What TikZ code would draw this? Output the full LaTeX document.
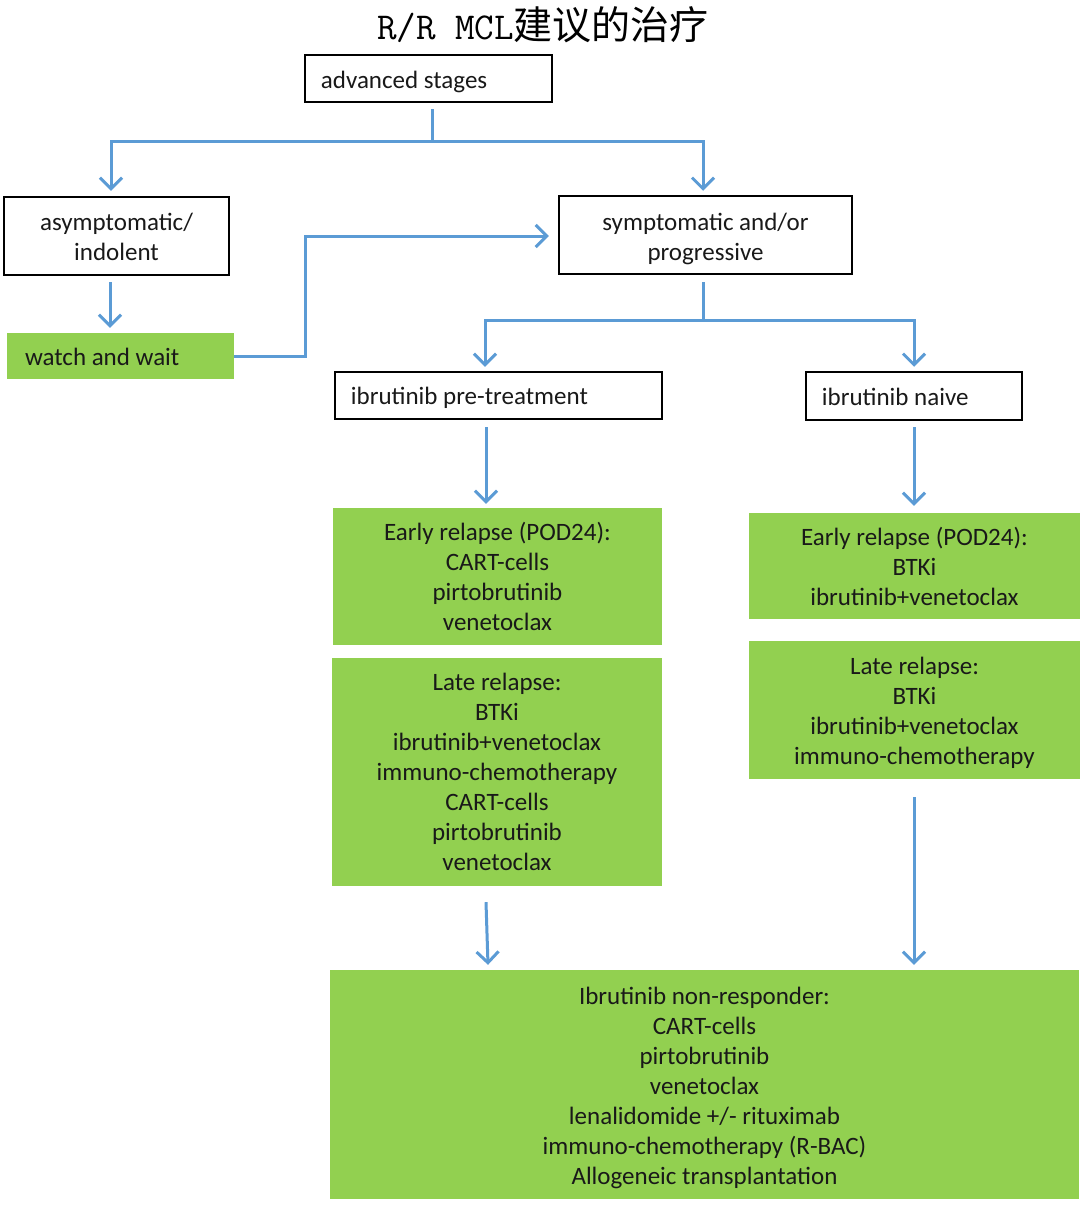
\documentclass[tikz,border=0pt]{standalone}
\usepackage{fontspec}
\setmainfont{Carlito}
\newfontfamily\cjkf{Noto Sans CJK SC}
\usetikzlibrary{arrows.meta}
\definecolor{lblue}{HTML}{5B9BD5}
\definecolor{lgreen}{HTML}{92D050}
\tikzset{
 txt/.style={font=\fontsize{25}{30}\selectfont, text=black!90, inner sep=0pt},
 wbox/.style={draw=black, line width=2.5pt, fill=white, inner sep=0pt},
 gbox/.style={fill=lgreen, inner sep=0pt},
 conn/.style={draw=lblue, line width=3pt},
 arr/.style={conn, -{Straight Barb[length=11pt,width=22pt]}},
}
\begin{document}
\begin{tikzpicture}[x=1pt,y=-1pt]
\useasboundingbox (0,0) rectangle (1080,1205);
\fill[white] (0,0) rectangle (1080,1205);

\node[inner sep=0pt] (title) at (543,25) {{\ttfamily\fontsize{38}{40}\selectfont R/R MCL}\cjkf\fontsize{39}{40}\selectfont 建议的治疗};

% boxes
\node[wbox, minimum width=247pt, minimum height=47pt] (adv) at (428.5,78.5) {};
\node[wbox, minimum width=225pt, minimum height=78pt] (asym) at (116.5,236) {};
\node[wbox, minimum width=293pt, minimum height=78pt] (symp) at (705.5,235) {};
\node[gbox, minimum width=227pt, minimum height=46pt] (watch) at (120.5,356) {};
\node[wbox, minimum width=327pt, minimum height=47pt] (pre) at (498.5,395.5) {};
\node[wbox, minimum width=216pt, minimum height=48pt] (naive) at (914,396) {};
\node[gbox, minimum width=329pt, minimum height=137pt] (erl) at (497.5,576.5) {};
\node[gbox, minimum width=330pt, minimum height=228pt] (lrl) at (497,772) {};
\node[gbox, minimum width=331pt, minimum height=106pt] (err) at (914.5,566) {};
\node[gbox, minimum width=331pt, minimum height=138pt] (lrr) at (914.5,710) {};
\node[gbox, minimum width=749pt, minimum height=229pt] (nr) at (704.5,1084.5) {};

% texts
\node[txt, anchor=west] (adv-t) at ([xshift=17pt,yshift=-3pt]adv.west) {advanced stages};
\node[txt, align=center] (asym-t) at ([yshift=-1pt]asym.center) {asymptomatic/\\indolent};
\node[txt, align=center] (symp-t) at ([yshift=-3.5pt]symp.center) {symptomatic and/or\\progressive};
\node[txt, anchor=west] (watch-t) at ([xshift=18pt,yshift=-1pt]watch.west) {watch and wait};
\node[txt, anchor=west] (pre-t) at ([xshift=17pt,yshift=-2pt]pre.west) {ibrutinib pre-treatment};
\node[txt, anchor=west] (naive-t) at ([xshift=17pt,yshift=-1pt]naive.west) {ibrutinib naive};
\node[txt, align=center] (erl-t) at (erl.center) {Early relapse (POD24):\\CART-cells\\pirtobrutinib\\venetoclax};
\node[txt, align=center] (lrl-t) at (lrl.center) {Late relapse:\\BTKi\\ibrutinib+venetoclax\\immuno-chemotherapy\\CART-cells\\pirtobrutinib\\venetoclax};
\node[txt, align=center] (err-t) at (err.center) {Early relapse (POD24):\\BTKi\\ibrutinib+venetoclax};
\node[txt, align=center] (lrr-t) at ([yshift=-3pt]lrr.center) {Late relapse:\\BTKi\\ibrutinib+venetoclax\\immuno-chemotherapy};
\node[txt, align=center] (nr-t) at ([yshift=-3pt]nr.center) {Ibrutinib non-responder:\\CART-cells\\pirtobrutinib\\venetoclax\\lenalidomide +/- rituximab\\immuno-chemotherapy (R-BAC)\\Allogeneic transplantation};

% connectors
\coordinate (j1) at (432,141);
\draw[conn] ([xshift=3.5pt,yshift=-6pt]adv.south) -- (j1);
\draw[arr] (j1) -| ([xshift=-5.5pt,yshift=5pt]asym.north);
\draw[arr] (j1) -| ([xshift=-2.5pt,yshift=4pt]symp.north);

\draw[arr] ([xshift=-6.5pt,yshift=-6pt]asym.south) -- ([xshift=-10.5pt,yshift=5pt]watch.north);

\coordinate (bend) at (305,236);
\draw[arr] (watch.east) -| (bend) -- ([xshift=-9pt,yshift=-1pt]symp.west);

\coordinate (j2) at (703,320);
\draw[conn] ([xshift=-2.5pt,yshift=-7pt]symp.south) -- (j2);
\draw[arr] (j2) -| ([xshift=-13.5pt,yshift=4pt]pre.north);
\draw[arr] (j2) -| ([yshift=4pt]naive.north);

\draw[arr] ([xshift=-12.5pt,yshift=-7pt]pre.south) -- ([xshift=-11.5pt,yshift=4pt]erl.north);
\draw[arr] ([yshift=-6pt]naive.south) -- ([xshift=-0.5pt,yshift=7pt]err.north);

\draw[arr] ([xshift=-11pt,yshift=-16pt]lrl.south) -- ([xshift=-216.5pt,yshift=5pt]nr.north);
\draw[arr] ([xshift=-0.5pt,yshift=-18pt]lrr.south) -- ([xshift=209.5pt,yshift=5pt]nr.north);
\end{tikzpicture}
\end{document}
